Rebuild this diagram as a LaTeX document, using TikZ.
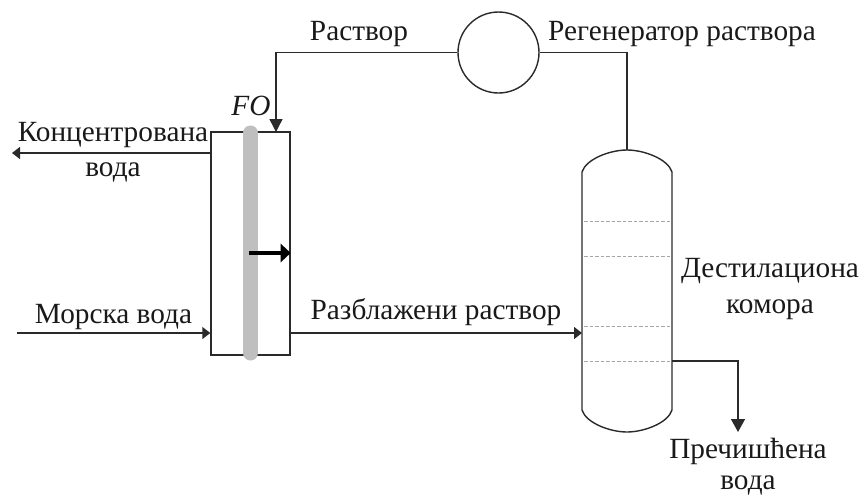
\documentclass[tikz,border=0pt]{standalone}
\usepackage{fontspec}
\setmainfont{Liberation Serif}
\usetikzlibrary{arrows.meta,calc}
\definecolor{ln}{HTML}{2A2A2A}
\tikzset{
 line/.style={draw=ln,line width=1.4pt},
 flow/.style={line,-{Triangle[length=8pt,width=12pt]}},
 flowbig/.style={line,-{Triangle[length=13pt,width=14pt]}},
 lbl/.style={font=\fontsize{29.3}{32}\selectfont,inner sep=0pt,text=black!90,align=center},
 tray/.style={draw=black!35,line width=0.9pt,dash pattern=on 3.5pt off 2pt},
}
\begin{document}
\begin{tikzpicture}[x=1pt,y=-1pt]
\useasboundingbox (0,0) rectangle (860,496);
% coordinates
\coordinate (seaIn) at (17,333);
\coordinate (concOut) at (12,153);
% membrane unit
\node[minimum width=79pt,minimum height=223pt,inner sep=0pt,draw=ln,line width=1.4pt] (box) at (250.5,243.5) {};
\draw[draw=black!25,line width=15pt,line cap=round] (250.5,133) -- (250.5,353);
\node[minimum size=0pt,inner sep=0pt] (memb) at (249,253) {};
\draw[draw=black,line width=3.4pt,-{Triangle[length=10pt,width=18pt]}] (memb) -- (box.east |- memb);
% regenerator
\node[circle,draw=ln,line width=1.4pt,minimum size=81pt,inner sep=0pt] (regen) at (498.5,52.5) {};
% column
\coordinate (colTop) at (627,150);
\draw[line] (582,172) .. controls (586,159) and (610,150) .. (627,150) .. controls (644,150) and (668,159) .. (672,172)
 -- (672,410) .. controls (668,423) and (644,432) .. (627,432) .. controls (610,432) and (586,423) .. (582,410) -- cycle;
\foreach \yy in {221,256,326,361}{\draw[tray] (584,\yy) -- (670,\yy);}
\coordinate (colIn) at (582,333);
\coordinate (colOut) at (672,361);
\coordinate (product) at (738,432);
\coordinate (feedIn) at (276,132);
% connectors
\draw[line] (regen.east) -- (colTop |- regen.east) -- (colTop);
\draw[line,-{Triangle[length=13pt,width=13pt]}] (regen.west) -- (feedIn |- regen.west) -- (feedIn);
\draw[flow] (box.west |- concOut) -- (concOut);
\draw[flow] (seaIn) -- (box.west |- seaIn);
\draw[flow] (box.east |- colIn) -- (colIn);
\draw[flowbig] (colOut) -- (product |- colOut) -- (product);
% labels
\node[lbl,anchor=base] (tRast) at (359,40) {Раствор};
\node[lbl,anchor=base] (tReg) at (682,40) {Регенератор раствора};
\node[lbl,anchor=base,font=\fontsize{29.3}{32}\selectfont\itshape] (tFO) at (251,115) {FO};
\node[lbl,anchor=base] (tConc) at (113,141) {Концентрована};
\node[lbl,anchor=base] (tVoda) at (113,176) {вода};
\node[lbl,anchor=base] (tSea) at (113.5,323) {Морска вода};
\node[lbl,anchor=base] (tRazb) at (436,319) {Разблажени раствор};
\node[lbl,anchor=base] (tDest) at (770,277) {Дестилациона};
\node[lbl,anchor=base] (tKom) at (770,313) {комора};
\node[lbl,anchor=base] (tPre) at (748,458) {Пречишћена};
\node[lbl,anchor=base] (tVoda2) at (748,489) {вода};
\end{tikzpicture}
\end{document}
